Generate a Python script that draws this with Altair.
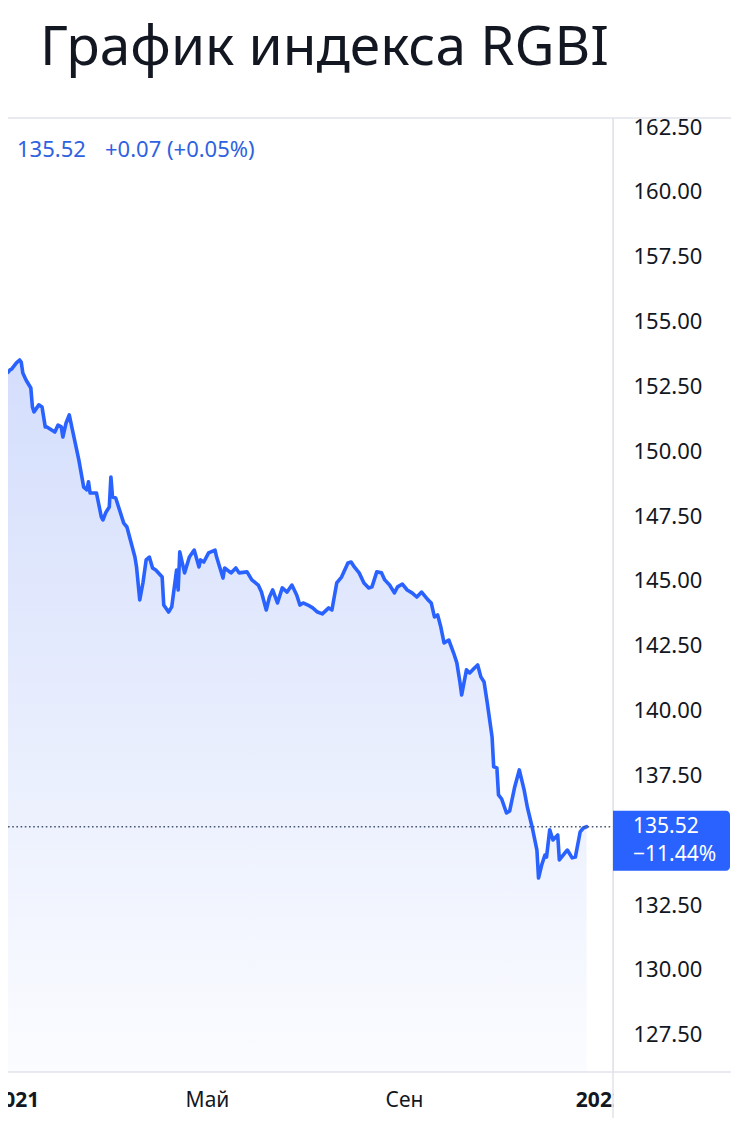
import altair as alt
import pandas as pd

# ---------------- data ----------------
dates = [
    "2020-12-23", "2020-12-24", "2020-12-28", "2020-12-29", "2020-12-30",
    "2021-01-02", "2021-01-04", "2021-01-05", "2021-01-06", "2021-01-08",
    "2021-01-11", "2021-01-12", "2021-01-13", "2021-01-16", "2021-01-18",
    "2021-01-20", "2021-01-21", "2021-01-26", "2021-01-28", "2021-01-30",
    "2021-01-31", "2021-02-02", "2021-02-04", "2021-02-06", "2021-02-10",
    "2021-02-13", "2021-02-15", "2021-02-16", "2021-02-17", "2021-02-21",
    "2021-02-24", "2021-02-25", "2021-02-27", "2021-03-01", "2021-03-02",
    "2021-03-03", "2021-03-05", "2021-03-10", "2021-03-12", "2021-03-17",
    "2021-03-18", "2021-03-20", "2021-03-22", "2021-03-24", "2021-03-26",
    "2021-03-28", "2021-03-30", "2021-04-03", "2021-04-04", "2021-04-07",
    "2021-04-09", "2021-04-12", "2021-04-13", "2021-04-14", "2021-04-17",
    "2021-04-20", "2021-04-23", "2021-04-26", "2021-04-27", "2021-04-29",
    "2021-05-02", "2021-05-06", "2021-05-07", "2021-05-11", "2021-05-12",
    "2021-05-16", "2021-05-19", "2021-05-21", "2021-05-26", "2021-05-29",
    "2021-06-02", "2021-06-04", "2021-06-07", "2021-06-09", "2021-06-11",
    "2021-06-14", "2021-06-17", "2021-06-20", "2021-06-23", "2021-06-26",
    "2021-06-28", "2021-06-30", "2021-07-03", "2021-07-06", "2021-07-09",
    "2021-07-12", "2021-07-16", "2021-07-18", "2021-07-21", "2021-07-24",
    "2021-07-28", "2021-07-30", "2021-08-01", "2021-08-04", "2021-08-07",
    "2021-08-10", "2021-08-12", "2021-08-15", "2021-08-18", "2021-08-20",
    "2021-08-23", "2021-08-26", "2021-08-28", "2021-08-31", "2021-09-03",
    "2021-09-06", "2021-09-09", "2021-09-12", "2021-09-16", "2021-09-18",
    "2021-09-20", "2021-09-22", "2021-09-24", "2021-09-26", "2021-09-29",
    "2021-10-02", "2021-10-04", "2021-10-06", "2021-10-07", "2021-10-10",
    "2021-10-12", "2021-10-15", "2021-10-17", "2021-10-19", "2021-10-21",
    "2021-10-23", "2021-10-26", "2021-10-27", "2021-10-29", "2021-10-30",
    "2021-11-01", "2021-11-04", "2021-11-06", "2021-11-09", "2021-11-12",
    "2021-11-15", "2021-11-17", "2021-11-20", "2021-11-23", "2021-11-24",
    "2021-11-26", "2021-11-28", "2021-11-29", "2021-12-01", "2021-12-03",
    "2021-12-06", "2021-12-07", "2021-12-11", "2021-12-12", "2021-12-15",
    "2021-12-17", "2021-12-20", "2021-12-22", "2021-12-24",
]

values = [
    153.02, 152.87, 153.06, 153.14, 153.17,
    153.41, 153.52, 153.44, 153.02, 152.75,
    152.44, 151.71, 151.52, 151.79, 151.71,
    150.94, 150.94, 150.74, 151.01, 150.94,
    150.55, 151.09, 151.40, 150.82, 149.66,
    148.62, 148.51, 148.82, 148.39, 148.39,
    147.47, 147.35, 147.66, 147.85, 149.01,
    148.24, 148.20, 147.23, 147.08, 145.92,
    145.54, 144.27, 144.92, 145.81, 145.92,
    145.50, 145.42, 145.15, 144.07, 143.80,
    144.00, 145.42, 144.65, 146.12, 145.31,
    145.92, 146.19, 145.54, 145.81, 145.73,
    146.08, 146.19, 145.92, 145.11, 145.50,
    145.31, 145.50, 145.31, 145.35, 145.04,
    144.84, 144.57, 143.88, 144.38, 144.65,
    144.15, 144.73, 144.57, 144.84, 144.46,
    144.07, 144.15, 144.07, 143.96, 143.80,
    143.73, 143.96, 143.88, 144.92, 145.15,
    145.69, 145.73, 145.54, 145.31, 144.92,
    144.73, 144.77, 145.35, 145.31, 145.04,
    144.84, 144.54, 144.77, 144.88, 144.65,
    144.54, 144.38, 144.57, 144.27, 144.15,
    143.61, 143.69, 143.22, 142.61, 142.72,
    142.22, 141.84, 141.06, 140.60, 141.57,
    141.45, 141.64, 141.76, 141.30, 141.10,
    140.29, 138.98, 137.83, 137.79, 136.75,
    136.59, 136.05, 136.13, 137.02, 137.71,
    136.94, 136.28, 135.51, 134.62, 133.54,
    134.05, 134.43, 134.35, 135.40, 135.01,
    135.20, 134.24, 134.55, 134.62, 134.32,
    134.35, 135.32, 135.47, 135.52,
]

y_ticks = [127.5, 130.0, 132.5, 135.0, 137.5, 140.0, 142.5, 145.0,
           147.5, 150.0, 152.5, 155.0, 157.5, 160.0, 162.5]
y_min, y_max = 126.06, 162.854

x_tick_dates = [(2021, 1, 1), (2021, 5, 1), (2021, 9, 1), (2022, 1, 1)]
month_names = ["Янв", "Фев", "Мар", "Апр", "Май", "Июн",
               "Июл", "Авг", "Сен", "Окт", "Ноя", "Дек"]

title_text = "График индекса RGBI"
last_value = 135.52
legend_value = "135.52"
legend_change = "+0.07 (+0.05%)"
tag_change = "−11.44%"

# ---------------- styling ----------------
BLUE = "#2962ff"
LEGEND_BLUE = "#2f62e0"
TEXT = "#131722"
FRAME = "#e0e3eb"
FONT = "Noto Sans"
W, H = 605, 954

df = pd.DataFrame({"date": dates, "value": values})
one = pd.DataFrame({"k": [0]})

month_arr = "[" + ",".join("'%s'" % m for m in month_names) + "]"

x_enc = alt.X(
    "date:T",
    scale=alt.Scale(
        type="utc",
        domain=[alt.DateTime(year=2020, month=12, date=27, hours=18, utc=True),
                alt.DateTime(year=2022, month=1, date=9, hours=12, utc=True)],
    ),
    axis=alt.Axis(
        values=[alt.DateTime(year=y, month=m, date=d, utc=True) for (y, m, d) in x_tick_dates],
        labelExpr="utcmonth(datum.value) == 0 ? utcFormat(datum.value, '%Y') : "
                  + month_arr + "[utcmonth(datum.value)]",
        labelFontWeight=alt.condition("utcmonth(datum.value) == 0",
                                      alt.value("bold"), alt.value("normal")),
        labelFlush=False,
        labelOverlap=False,
        labelBaseline="middle",
        labelPadding=28,
        labelFontSize=21,
        ticks=False,
        tickSize=0,
        domain=False,
        grid=False,
        title=None,
    ),
)

y_enc = alt.Y(
    "value:Q",
    scale=alt.Scale(domain=[y_min, y_max], zero=False, nice=False),
    axis=alt.Axis(
        orient="right",
        values=y_ticks,
        format=".2f",
        labelAlign="left",
        labelBaseline="middle",
        labelPadding=20,
        labelFontSize=22,
        labelFlush=False,
        labelOverlap=False,
        ticks=False,
        tickSize=0,
        domain=True,
        domainColor=FRAME,
        domainWidth=1,
        grid=False,
        title=None,
    ),
)

gradient = alt.Gradient(
    gradient="linear",
    stops=[alt.GradientStop(color="#d4defc", offset=0),
           alt.GradientStop(color="#fbfcff", offset=1)],
    x1=0, x2=0, y1=0, y2=1,
)

area = alt.Chart(df).mark_area(clip=True, color=gradient).encode(
    x=x_enc, y=y_enc, y2=alt.datum(y_min)
)
line = alt.Chart(df).mark_line(
    clip=True, color=BLUE, strokeWidth=3.6, strokeJoin="round", strokeCap="round"
).encode(x="date:T", y="value:Q")

ann = alt.Chart(one)

dotted = ann.mark_rule(color="#465570", strokeDash=[1.6, 2.6], strokeWidth=1.6).encode(
    y=alt.datum(last_value), x=alt.value(0), x2=alt.value(W)
)

legend1 = ann.mark_text(align="left", baseline="middle", fontSize=22, font=FONT,
                        color=LEGEND_BLUE).encode(x=alt.value(9), y=alt.value(32),
                                                  text=alt.value(legend_value))
legend2 = ann.mark_text(align="left", baseline="middle", fontSize=22, font=FONT,
                        color=LEGEND_BLUE).encode(x=alt.value(97), y=alt.value(32),
                                                  text=alt.value(legend_change))

title = ann.mark_text(align="left", baseline="alphabetic", fontSize=55, font=FONT,
                      color=TEXT).encode(x=alt.value(32), y=alt.value(-53),
                                         text=alt.value(title_text))

top_line = ann.mark_rule(color=FRAME, strokeWidth=1.5).encode(
    x=alt.value(-10), x2=alt.value(735), y=alt.value(0))
bottom_line = ann.mark_rule(color=FRAME, strokeWidth=1.5).encode(
    x=alt.value(-10), x2=alt.value(735), y=alt.value(H))
cover = ann.mark_rect(color="white").encode(
    x=alt.value(W + 0.5), x2=alt.value(735), y=alt.value(H + 1), y2=alt.value(H + 60))
vline = ann.mark_rule(color=FRAME, strokeWidth=1.5).encode(
    x=alt.value(W), y=alt.value(0), y2=alt.value(H + 60))

tag = ann.mark_rect(color=BLUE, yOffset=-16, y2Offset=44,
                    cornerRadiusTopRight=4, cornerRadiusBottomRight=4).encode(
    x=alt.value(W), x2=alt.value(722), y=alt.datum(last_value), y2=alt.datum(last_value))
tag_t1 = ann.mark_text(align="left", baseline="middle", fontSize=21, font=FONT,
                       color="white").encode(x=alt.value(625), y=alt.datum(last_value),
                                              text=alt.value("%.2f" % last_value))
tag_t2 = ann.mark_text(align="left", baseline="middle", fontSize=21, font=FONT,
                       color="white", dy=28).encode(x=alt.value(625), y=alt.datum(last_value),
                                                     text=alt.value(tag_change))

chart = alt.layer(
    area, line, dotted, legend1, legend2, title,
    top_line, bottom_line, cover, vline, tag, tag_t1, tag_t2,
).properties(
    width=W, height=H,
    autosize=alt.AutoSizeParams(type="none"),
    padding={"left": 0, "top": 110, "right": 118, "bottom": 46},
    background="white",
).configure_view(stroke=None).configure_axis(
    labelFont=FONT, labelColor=TEXT
)

chart.save("out.html", embed_options={"renderer": "svg", "actions": False})
